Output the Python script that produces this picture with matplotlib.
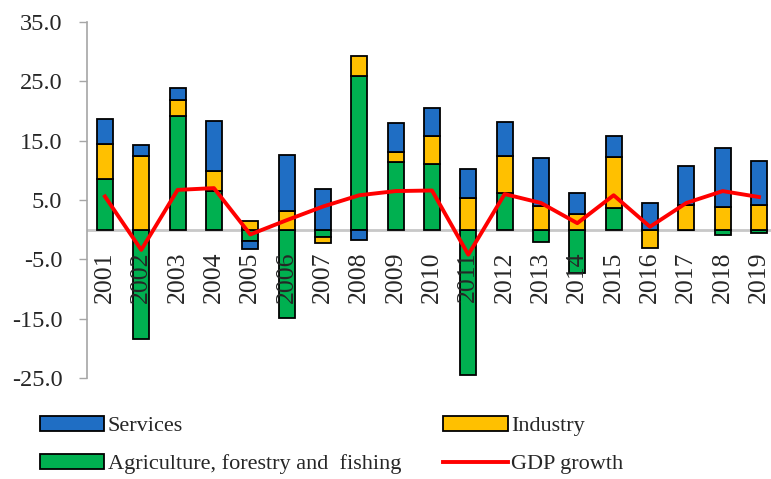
import matplotlib
matplotlib.use("Agg")
import matplotlib.pyplot as plt
import numpy as np
from matplotlib.patches import Patch
from matplotlib.lines import Line2D

plt.rcParams['font.family'] = ['Liberation Serif', 'DejaVu Serif']

years = [str(y) for y in range(2001, 2020)]
agriculture = [8.5, -18.4, 19.2, 6.5, -1.9, -14.9, -1.2, 25.8, 11.4, 11.0,
               -24.4, 6.2, -2.0, -7.2, 3.6, 0.0, 0.0, -0.9, -0.6]
industry = [5.9, 12.4, 2.7, 3.3, 1.5, 3.1, -1.0, 3.4, 1.6, 4.8,
            5.3, 6.2, 4.0, 2.6, 8.6, -3.1, 4.2, 3.9, 4.1]
services = [4.3, 1.8, 2.0, 8.5, -1.3, 9.5, 6.8, -1.8, 5.0, 4.6,
            4.9, 5.8, 8.0, 3.5, 3.6, 4.5, 6.6, 9.8, 7.5]
gdp_growth = [5.6, -3.4, 6.7, 7.0, -0.8, 1.6, 3.9, 5.8, 6.5, 6.6,
              -4.2, 6.0, 4.5, 1.1, 5.8, 0.5, 4.5, 6.5, 5.5]
yticks = [35, 25, 15, 5, -5, -15, -25]

C_SERV = '#1F6EC4'
C_IND = '#FFC000'
C_AGR = '#00B050'
C_GDP = '#FF0000'
TXT = '#262626'

fig = plt.figure(figsize=(7.71, 4.79), dpi=100)
W, H = 771, 479
ax = fig.add_axes([87.3 / W, 1 - 378.3 / H, 1 - 87.3 / W, (378.3 - 21.7) / H])

x = np.arange(len(years))
series = [(agriculture, C_AGR), (industry, C_IND), (services, C_SERV)]
pos_base = np.zeros(len(years))
neg_base = np.zeros(len(years))
for vals, col in series:
    v = np.array(vals)
    base = np.where(v >= 0, pos_base, neg_base)
    ax.bar(x, v, width=0.44, bottom=base, color=col, edgecolor='black',
           linewidth=1.3, zorder=3)
    pos_base = pos_base + np.where(v >= 0, v, 0)
    neg_base = neg_base + np.where(v < 0, v, 0)

ax.axhline(0, color='#C8C8C8', linewidth=2, zorder=1)

for xi, lab in zip(x, years):
    ax.annotate(lab, (xi, 0), xytext=(0, -16), textcoords='offset points',
                rotation=90, ha='center', va='top', fontsize=18.5,
                color=TXT, zorder=4)

ax.plot(x, gdp_growth, color=C_GDP, linewidth=2.8, zorder=5)

ax.set_xlim(-0.485, 18.33)
ax.set_ylim(-25, 35)
ax.set_yticks(yticks)
ax.set_yticklabels([f"{t:.1f}" for t in yticks], fontsize=17.5, color=TXT)
ax.tick_params(axis='y', direction='out', length=6, width=1,
               color='#A6A6A6', pad=12)
ax.set_xticks([])
for s in ['top', 'right', 'bottom']:
    ax.spines[s].set_visible(False)
ax.spines['left'].set_color('#A6A6A6')
ax.spines['left'].set_linewidth(1.2)

handles = [
    Patch(facecolor=C_SERV, edgecolor='black', linewidth=1.3, label='Services'),
    Patch(facecolor=C_AGR, edgecolor='black', linewidth=1.3,
          label='Agriculture, forestry and  fishing'),
    Patch(facecolor=C_IND, edgecolor='black', linewidth=1.3, label='Industry'),
    Line2D([0], [0], color=C_GDP, linewidth=2.8, label='GDP growth'),
]
fig.legend(handles=handles, ncol=2, loc='upper left',
           bbox_to_anchor=(20 / W, 1 - 396 / H), frameon=False,
           fontsize=16, handlelength=2.9, handleheight=0.65,
           handletextpad=0.15, columnspacing=1.9, labelspacing=0.8,
           labelcolor=TXT)

fig.savefig('out.png', dpi=100)
